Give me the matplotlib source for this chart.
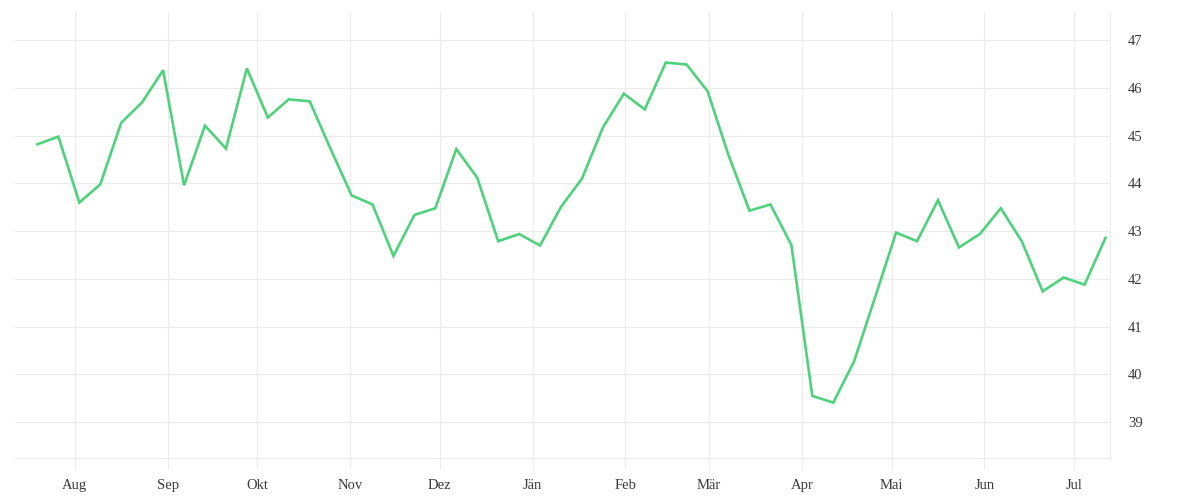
import matplotlib
matplotlib.use("Agg")
import matplotlib.pyplot as plt
import datetime as dt

# weekly values, starting mid July 2022
start = dt.datetime(2022, 7, 19, 12)
values = [44.82, 44.98, 43.60, 43.98, 45.27, 45.70, 46.37, 43.96, 45.21, 44.73,
          46.41, 45.38, 45.76, 45.72, 44.72, 43.75, 43.56, 42.48, 43.34, 43.48,
          44.72, 44.12, 42.79, 42.94, 42.70, 43.51, 44.10, 45.17, 45.88, 45.55,
          46.53, 46.49, 45.93, 44.59, 43.43, 43.56, 42.71, 39.55, 39.41, 40.28,
          41.62, 42.97, 42.79, 43.65, 42.66, 42.94, 43.48, 42.79, 41.74, 42.03,
          41.88, 42.86]
dates = [start + dt.timedelta(days=7 * i) for i in range(len(values))]

month_starts = [dt.date(2022, m, 1) for m in range(8, 13)] + [dt.date(2023, m, 1) for m in range(1, 8)]
month_labels = ['Aug', 'Sep', 'Okt', 'Nov', 'Dez', 'Jän', 'Feb', 'Mär', 'Apr', 'Mai', 'Jun', 'Jul']
y_ticks = [39, 40, 41, 42, 43, 44, 45, 46, 47]

plt.rcParams['font.family'] = ['Liberation Serif', 'DejaVu Serif']

fig = plt.figure(figsize=(12, 5), dpi=100)
ax = fig.add_axes([0.0125, 0.084, 0.9125, 0.892])

ax.plot(dates, values, color='#4fd27b', linewidth=1.9, solid_joinstyle='miter')

ax.set_xlim(dt.datetime(2022, 7, 12, 0), dt.datetime(2023, 7, 13, 0))
ax.set_ylim(38.25, 47.59)

ax.set_xticks(month_starts)
ax.set_xticklabels(month_labels)
ax.set_yticks(y_ticks)
ax.yaxis.tick_right()

ax.grid(True, color='#ebebeb', linewidth=0.8)
ax.set_axisbelow(True)

for side in ['top', 'left']:
    ax.spines[side].set_visible(False)
ax.spines['bottom'].set_color('#ebebeb')
ax.spines['right'].set_color('#ebebeb')

ax.tick_params(axis='x', length=8, color='#ebebeb', labelsize=10.5, labelcolor='#3a3a3a', pad=7)
ax.tick_params(axis='y', length=0, labelsize=10.5, labelcolor='#3a3a3a', pad=13)

fig.savefig('out.png', dpi=100, facecolor='white')
